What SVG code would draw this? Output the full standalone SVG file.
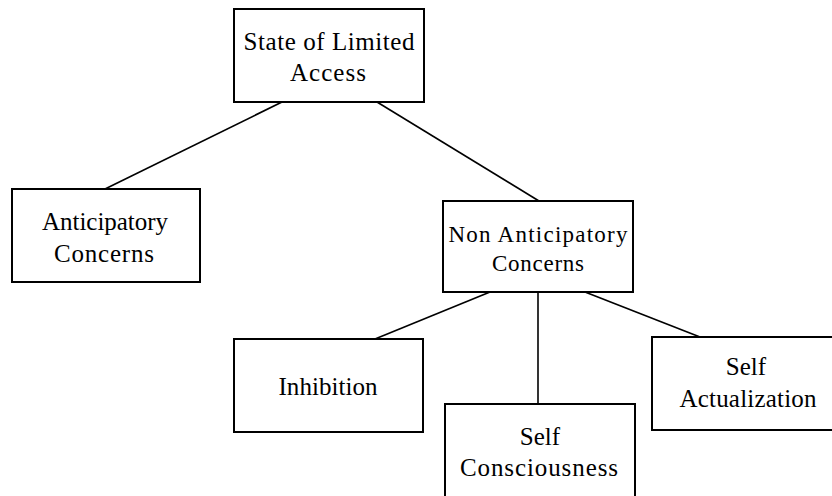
<svg xmlns="http://www.w3.org/2000/svg" width="832" height="496" viewBox="0 0 832 496">
<style>
.box{fill:#fff;stroke:#000;stroke-width:2}
.lbl{font-family:"Liberation Serif","Times New Roman",serif;font-size:25px;fill:#000;text-anchor:middle}
.sm{font-size:23px}
.con line{stroke:#000;stroke-width:1.6}
</style>
<rect width="832" height="496" fill="#fff"/>
<g class="con" id="connectors">
<line x1="282" y1="102" x2="105" y2="189"/>
<line x1="377" y1="102" x2="539" y2="201"/>
<line x1="490" y1="292" x2="375" y2="339"/>
<line x1="538" y1="292" x2="538" y2="404"/>
<line x1="585" y1="292" x2="700" y2="337"/>
</g>
<g id="n-state">
<rect class="box" x="234" y="9" width="190" height="93"/>
<text class="lbl" x="329" y="50" textLength="171" lengthAdjust="spacing">State of Limited</text>
<text class="lbl" x="328" y="81" textLength="76" lengthAdjust="spacing">Access</text>
</g>
<g id="n-anticipatory">
<rect class="box" x="12" y="189" width="188" height="93"/>
<text class="lbl" x="105" y="230" textLength="126" lengthAdjust="spacing">Anticipatory</text>
<text class="lbl" x="104" y="262" textLength="100" lengthAdjust="spacing">Concerns</text>
</g>
<g id="n-nonanticipatory">
<rect class="box" x="443" y="201" width="190" height="91"/>
<text class="lbl sm" x="538" y="242" textLength="179" lengthAdjust="spacing">Non Anticipatory</text>
<text class="lbl sm" x="538" y="271" textLength="92" lengthAdjust="spacing">Concerns</text>
</g>
<g id="n-inhibition">
<rect class="box" x="234" y="339" width="189" height="93"/>
<text class="lbl" x="328" y="395" textLength="99" lengthAdjust="spacing">Inhibition</text>
</g>
<g id="n-selfconsciousness">
<rect class="box" x="445" y="404" width="190" height="94"/>
<text class="lbl" x="540" y="445">Self</text>
<text class="lbl" x="539" y="476" textLength="158" lengthAdjust="spacing">Consciousness</text>
</g>
<g id="n-selfactualization">
<rect class="box" x="652" y="337" width="190" height="93"/>
<text class="lbl" x="746" y="375">Self</text>
<text class="lbl" x="748" y="407" textLength="137" lengthAdjust="spacing">Actualization</text>
</g>
</svg>
